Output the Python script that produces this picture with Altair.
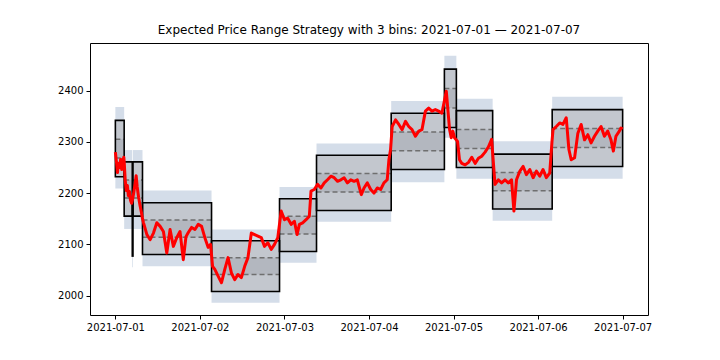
import altair as alt
import pandas as pd

# ---- data ----
# segments (hours since 2021-07-01 00:00)
seg_start = [0.0, 2.5, 4.8, 5.0, 7.7, 27.3, 46.6, 57.1, 78.3, 93.4, 96.8, 107.1, 124.0]
seg_end = [2.5, 4.8, 5.0, 7.7, 27.3, 46.6, 57.1, 78.3, 93.4, 96.8, 107.1, 124.0, 144.0]
box_low = [2232, 2155, 2077, 2155, 2080, 2008, 2086, 2166, 2246, 2328, 2250, 2169, 2252]
box_high = [2342, 2261, 2185, 2261, 2181, 2107, 2189, 2274, 2356, 2442, 2361, 2276, 2363]
outer_low = [2209, 2130, 2055, 2130, 2057, 1986, 2064, 2144, 2221, 2308, 2228, 2146, 2228]
outer_high = [2368, 2284, 2207, 2284, 2205, 2129, 2212, 2297, 2380, 2468, 2384, 2301, 2388]

# price path (hours, price)
price_hours = [
    0.0, 0.3, 0.6, 0.9, 1.2, 1.5, 1.8, 2.1, 2.4,
    2.5, 2.8, 3.1, 3.4, 3.7, 4.0, 4.3, 4.6, 4.9,
    5.2, 5.6, 5.9, 6.2, 6.6, 7.0, 7.4, 7.7,
    8.0, 8.95, 9.88, 10.81, 11.77, 12.71, 13.64, 14.6, 15.53, 16.46, 17.42, 18.35,
    19.28, 20.05, 20.7, 21.66, 22.59, 23.52, 24.48, 25.41, 26.34, 27.02,
    27.59, 28.24, 29.17, 30.13, 31.06, 31.99, 32.95, 33.88, 34.81, 35.77, 36.71,
    37.64, 38.6, 39.53, 40.46, 41.42, 42.35, 43.28, 44.24, 45.18, 46.11,
    47.07, 48.0, 48.93, 49.89, 50.82, 51.58, 52.24, 53.17, 54.13, 55.06, 55.54, 56.47,
    57.4, 58.36, 59.29, 60.22, 61.18, 62.12, 63.05, 64.01, 64.94, 65.87, 66.83, 67.76,
    68.69, 69.82, 70.59, 71.52, 72.48, 73.41, 74.34, 75.3, 76.24, 77.17, 77.65, 78.12,
    78.58, 79.54, 80.47, 81.4, 82.36, 83.29, 84.22, 85.18, 86.12, 87.05, 88.01, 88.94,
    89.87, 90.83, 91.76, 92.69,
    93.46, 93.94, 94.39, 94.87, 95.35, 95.8, 96.28,
    97.13, 97.69, 98.34, 99.3, 100.24, 101.17, 102.13, 103.06, 103.99, 104.95, 105.88, 106.81,
    107.77, 108.71, 109.64, 110.6, 111.53, 112.46, 113.14, 113.87, 114.83, 115.76, 116.69,
    117.65, 118.59, 119.52, 120.48, 121.41, 122.34, 123.3, 123.95,
    124.24, 125.17, 126.13, 127.06, 127.99, 128.75, 129.4, 130.36, 131.29, 132.22, 133.18,
    134.12, 135.05, 136.01, 136.94, 137.87, 138.83, 139.76, 140.69, 141.37, 142.1, 143.06,
    143.52, 144.0,
]
price_values = [
    2280, 2262, 2240, 2258, 2250, 2266, 2246, 2262, 2270,
    2262, 2225, 2205, 2215, 2195, 2203, 2186, 2180, 2188,
    2200, 2218, 2234, 2212, 2192, 2176, 2162, 2150,
    2142, 2119, 2109, 2122, 2142, 2135, 2125, 2083, 2129, 2096, 2113, 2125,
    2070, 2115, 2123, 2133, 2129, 2139, 2135, 2113, 2094, 2100,
    2057, 2051, 2038, 2025, 2051, 2074, 2044, 2031, 2041, 2035, 2057,
    2074, 2122, 2119, 2116, 2113, 2096, 2103, 2090, 2100, 2113,
    2165, 2148, 2151, 2139, 2145, 2119, 2139, 2142, 2148, 2155, 2204, 2207,
    2217, 2210, 2220, 2226, 2233, 2230, 2223, 2226, 2230, 2220, 2226, 2223,
    2226, 2197, 2210, 2220, 2207, 2200, 2210, 2207, 2220, 2226, 2265, 2285,
    2330, 2343, 2334, 2324, 2340, 2330, 2324, 2311, 2321, 2324, 2360, 2366,
    2360, 2363, 2360, 2356,
    2382, 2399, 2363, 2324, 2308, 2321, 2308,
    2301, 2265, 2258, 2255, 2260, 2270, 2258, 2268, 2272, 2280, 2290, 2305,
    2217, 2226, 2220, 2226, 2220, 2226, 2165, 2226, 2243, 2252, 2236,
    2246, 2230, 2243, 2233, 2246, 2230, 2239, 2301,
    2324, 2330, 2337, 2334, 2347, 2285, 2265, 2269, 2317, 2334, 2304,
    2314, 2298, 2311, 2321, 2330, 2311, 2321, 2304, 2282, 2311, 2321,
    2327, 2325,
]

tick_hours = [0, 24, 48, 72, 96, 120, 144]
tick_labels = ["2021-07-01", "2021-07-02", "2021-07-03", "2021-07-04",
               "2021-07-05", "2021-07-06", "2021-07-07"]
y_ticks = [2000, 2100, 2200, 2300, 2400]

title_text = "Expected Price Range Strategy with 3 bins: 2021-07-01 \u2014 2021-07-07"

# ---- build tables ----
segs = pd.DataFrame({
    "start": seg_start, "end": seg_end,
    "low": box_low, "high": box_high,
    "olow": outer_low, "ohigh": outer_high,
})
segs["b1"] = segs["low"] + (segs["high"] - segs["low"]) / 3
segs["b2"] = segs["low"] + 2 * (segs["high"] - segs["low"]) / 3

prices = pd.DataFrame({"hour": price_hours, "price": price_values})

label_expr = "[" + ",".join(f"'{t}'" for t in tick_labels) + "][round(datum.value/24)]"

xscale = alt.Scale(domain=[-7.2, 151.2], nice=False, zero=False)
yscale = alt.Scale(domain=[1962, 2493], nice=False, zero=False)

xaxis = alt.Axis(values=tick_hours, labelExpr=label_expr, title=None, grid=False)
yaxis = alt.Axis(values=y_ticks, title=None, grid=False, format="d")

OUTER = "#d4dde9"
BOX = "#c3c7ce"
MID = "#b3b7bf"

base = alt.Chart(segs)

outer = base.mark_rect(color=OUTER).encode(
    x=alt.X("start:Q", scale=xscale, axis=xaxis),
    x2="end:Q",
    y=alt.Y("olow:Q", scale=yscale, axis=yaxis),
    y2="ohigh:Q",
)
box = base.mark_rect(color=BOX).encode(
    x=alt.X("start:Q", title=None), x2="end:Q",
    y=alt.Y("low:Q", title=None), y2="high:Q",
)
mid = base.mark_rect(color=MID).encode(
    x=alt.X("start:Q", title=None), x2="end:Q",
    y=alt.Y("b1:Q", title=None), y2="b2:Q",
)
dash1 = base.mark_rule(color="#6f6f6f", strokeDash=[5, 3], strokeWidth=1.5).encode(
    x=alt.X("start:Q", title=None), x2="end:Q", y=alt.Y("b1:Q", title=None),
)
dash2 = base.mark_rule(color="#6f6f6f", strokeDash=[5, 3], strokeWidth=1.5).encode(
    x=alt.X("start:Q", title=None), x2="end:Q", y=alt.Y("b2:Q", title=None),
)
outline = base.mark_rect(fill="transparent", stroke="black", strokeWidth=1.6).encode(
    x=alt.X("start:Q", title=None), x2="end:Q",
    y=alt.Y("low:Q", title=None), y2="high:Q",
)
line = alt.Chart(prices).mark_line(color="red", strokeWidth=3, strokeJoin="round").encode(
    x=alt.X("hour:Q", title=None),
    y=alt.Y("price:Q", title=None),
)

chart = alt.layer(outer, box, mid, dash1, dash2, outline, line).properties(
    width=558,
    height=272,
    title=alt.TitleParams(title_text, font="DejaVu Sans", fontSize=12,
                          fontWeight="normal", color="black", anchor="middle", offset=6),
    padding={"left": 82, "top": 35, "right": 64, "bottom": 37},
    autosize=alt.AutoSizeParams(type="none"),
).configure_view(
    stroke="black", strokeWidth=1
).configure_axis(
    domain=False, tickColor="black", tickSize=4, labelColor="black",
    labelFont="DejaVu Sans", labelFontSize=10, labelPadding=3, grid=False,
)

chart.save("out.html", embed_options={"renderer": "svg", "actions": False})
